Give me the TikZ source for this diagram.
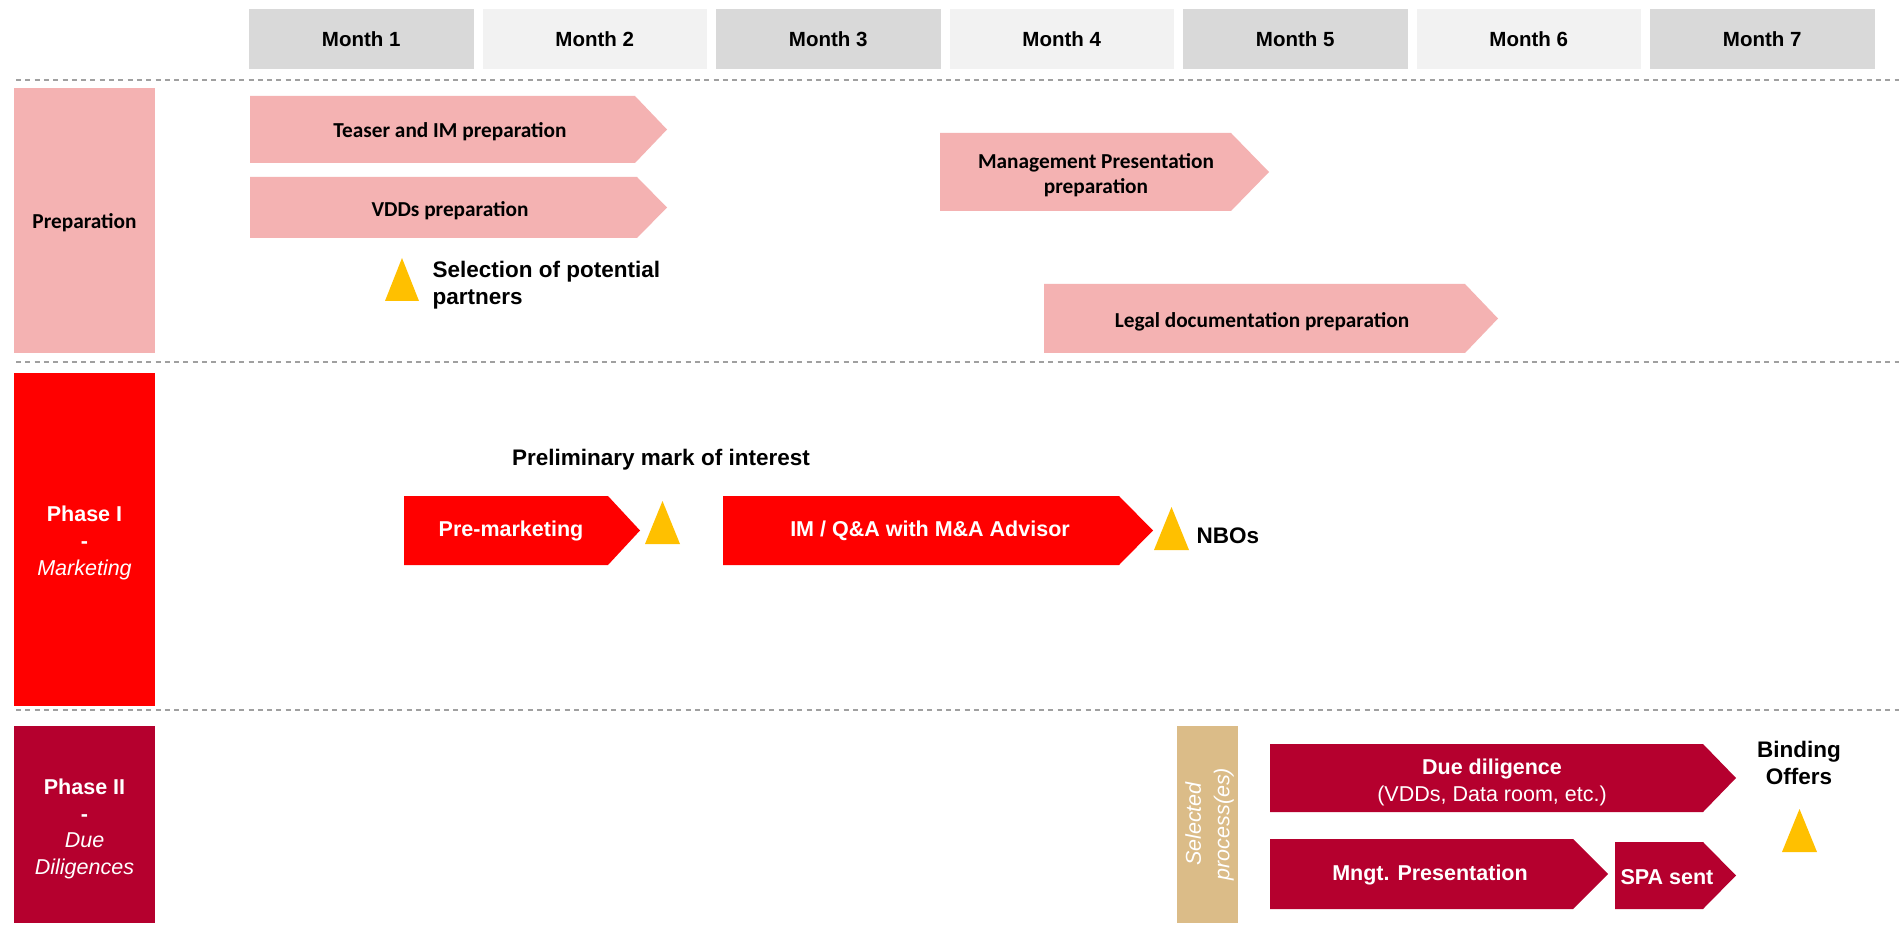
\documentclass[tikz,border=0pt]{standalone}
\usepackage{fontspec}
\setmainfont{Liberation Sans}
\newfontfamily\calibrifont{Carlito}
\definecolor{gdark}{HTML}{D9D9D9}
\definecolor{glight}{HTML}{F2F2F2}
\definecolor{prepPink}{HTML}{F4B2B2}
\definecolor{phaseRed}{HTML}{FF0000}
\definecolor{phaseCrim}{HTML}{B5002E}
\definecolor{tanBox}{HTML}{DBBC88}
\definecolor{triYel}{HTML}{FFC000}
\definecolor{dashGray}{HTML}{A0A0A0}
\newcommand\chevron[6]{\fill[#1] (#2,#3) -- (#4,#3) -- (#5,{(#3+#6)/2}) -- (#4,#6) -- (#2,#6) -- cycle;}
\newcommand\warntri[3]{\fill[triYel] (#1,#3) -- (#2,#3) -- ({(#1+#2)/2},{#3-43}) -- cycle;}
\tikzset{
  monthlbl/.style={font=\bfseries\fontsize{20.5}{24}\selectfont},
  preplbl/.style={font=\calibrifont\bfseries\fontsize{21.3}{25.5}\selectfont, align=center, text=black},
  blacklbl/.style={font=\bfseries\fontsize{22.5}{27}\selectfont, text=black},
  whitelbl/.style={font=\bfseries\fontsize{21.5}{26}\selectfont, text=white, align=center},
  sidelbl/.style={font=\fontsize{21.5}{27}\selectfont, text=white, align=center},
  sepline/.style={dashGray, line width=2pt, dash pattern=on 5pt off 4.3pt}
}
\begin{document}
\begin{tikzpicture}[x=1pt,y=-1pt]
\useasboundingbox (0,0) rectangle (1899,925);
\fill[white] (0,0) rectangle (1899,925);
% month headers
\foreach \i/\c in {1/gdark,2/glight,3/gdark,4/glight,5/gdark,6/glight,7/gdark}{
  \fill[\c] ({249+(\i-1)*233.5},9) rectangle ({249+(\i-1)*233.5+224.5},69);
  \node[monthlbl] (m\i) at ({249+(\i-1)*233.5+112.25},39) {Month \i};
}
% separators
\coordinate (s1a) at (16,80); \coordinate (s1b) at (1899,80);
\coordinate (s2a) at (16,362); \coordinate (s2b) at (1899,362);
\coordinate (s3a) at (16,710); \coordinate (s3b) at (1899,710);
\draw[sepline] (s1a) -- (s1b);
\draw[sepline] (s2a) -- (s2b);
\draw[sepline] (s3a) -- (s3b);
% left phase boxes
\fill[prepPink] (14,88) rectangle (155,353);
\node[preplbl] (prep) at (84.5,223) {Preparation};
\fill[phaseRed] (14,373) rectangle (155,706);
\node[sidelbl] (ph1) at (84.5,543) {\textbf{Phase I}\\\textbf{-}\\\textit{Marketing}};
\fill[phaseCrim] (14,726) rectangle (155,923);
\node[sidelbl, font=\fontsize{21.5}{26.8}\selectfont] (ph2) at (84.5,829) {\textbf{Phase II}\\\textbf{-}\\\textit{Due}\\\textit{Diligences}};
% preparation row
\chevron{prepPink}{250}{96}{635}{667}{163}
\node[preplbl] (teaser) at (450,131.5) {Teaser and IM preparation};
\chevron{prepPink}{250}{177}{637}{667}{238}
\node[preplbl] (vdds) at (450,210.5) {VDDs preparation};
\chevron{prepPink}{940}{133}{1231}{1269}{211}
\node[preplbl] (mgmtprep) at (1096,175) {Management Presentation\\preparation};
\chevron{prepPink}{1044}{284}{1465}{1498}{353}
\node[preplbl] (legal) at (1262,322) {Legal documentation preparation};
\warntri{385}{419}{301}
\node[blacklbl, anchor=west, align=left] (select) at (429,285) {Selection of potential\\partners};
% phase I row
\node[blacklbl] (prelim) at (661,460) {Preliminary mark of interest};
\chevron{phaseRed}{404}{496}{608}{640}{565}
\node[whitelbl] (premkt) at (511,531) {Pre-marketing};
\warntri{645}{680}{544}
\chevron{phaseRed}{723}{496}{1119}{1153}{565}
\node[whitelbl] (imqa) at (930,531) {IM / Q\&A with M\&A Advisor};
\warntri{1154}{1189}{550}
\node[blacklbl, anchor=west] (nbo) at (1193,536) {NBOs};
% phase II row
\fill[tanBox] (1177,726) rectangle (1238,923);
\node[font=\itshape\fontsize{21.5}{28.5}\selectfont, text=white, align=center, rotate=90] (selproc) at (1209.5,824) {Selected\\process(es)};
\chevron{phaseCrim}{1270}{744}{1703}{1736}{812}
\node[whitelbl, font=\bfseries\fontsize{21.5}{27}\selectfont] (dd) at (1492,782) {Due diligence\\\mdseries(VDDs, Data room, etc.)};
\chevron{phaseCrim}{1270}{839}{1573}{1608}{909}
\node[whitelbl] (mngt) at (1430,875) {Mngt. Presentation};
\chevron{phaseCrim}{1615}{842}{1703}{1736}{909}
\node[whitelbl] (spa) at (1667,877) {SPA sent};
\node[blacklbl, align=center] (binding) at (1799,763) {Binding\\Offers};
\warntri{1782}{1817}{852}
\end{tikzpicture}
\end{document}
